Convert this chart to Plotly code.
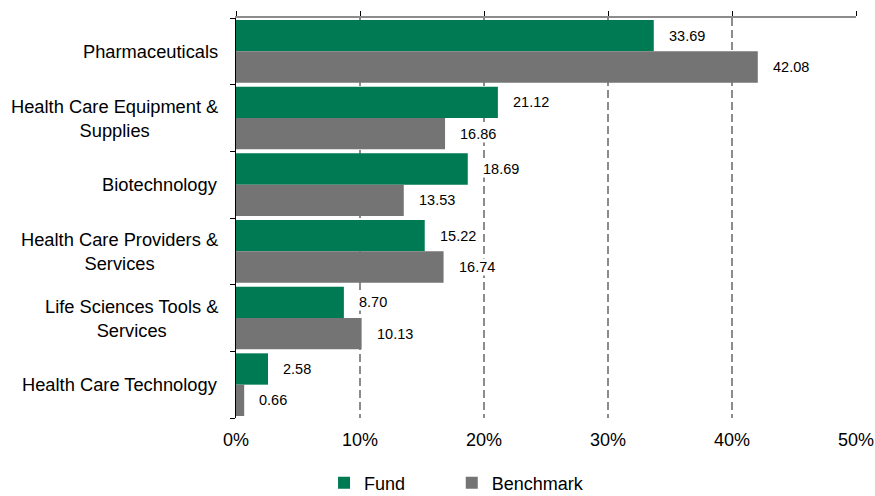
import plotly.graph_objects as go

categories = ["Pharmaceuticals", "Health Care Equipment &<br>Supplies", "Biotechnology",
              "Health Care Providers &<br>Services", "Life Sciences Tools &<br>Services",
              "Health Care Technology"]
fund = [33.69, 21.12, 18.69, 15.22, 8.70, 2.58]
benchmark = [42.08, 16.86, 13.53, 16.74, 10.13, 0.66]
x_ticks = [0, 10, 20, 30, 40, 50]
x_tick_labels = ["0%", "10%", "20%", "30%", "40%", "50%"]

GREEN = "#007A53"
GRAY = "#747474"
FONT = "Liberation Sans, Arial, sans-serif"
BARGAP = 0.06

idx = list(range(len(categories)))
fig = go.Figure()
fig.add_trace(go.Bar(y=idx, x=fund, orientation="h", name="Fund", legend="legend",
                     marker=dict(color=GREEN, line=dict(width=0))))
fig.add_trace(go.Bar(y=idx, x=benchmark, orientation="h", name="Benchmark", legend="legend2",
                     marker=dict(color=GRAY, line=dict(width=0))))
# invisible trace so the top (secondary) axis line and ticks are drawn
fig.add_trace(go.Scatter(x=x_ticks, y=[0] * len(x_ticks), xaxis="x2", yaxis="y",
                         mode="markers", marker=dict(opacity=0), showlegend=False,
                         hoverinfo="skip"))

off = (1 - BARGAP) / 4
annots = []
for i, (f, b) in enumerate(zip(fund, benchmark)):
    for val, yy in ((f, i - off), (b, i + off)):
        annots.append(dict(x=val, y=yy, xref="x", yref="y", text=f"{val:.2f}", showarrow=False,
                           xanchor="left", yanchor="middle", xshift=14, bgcolor="white",
                           borderpad=0,
                           font=dict(family=FONT, size=14.5, color="#000")))
for i, c in enumerate(categories):
    annots.append(dict(x=0, y=i, xref="paper", yref="y", text=c, showarrow=False,
                       xanchor="right", yanchor="middle", align="center", xshift=-16,
                       font=dict(family=FONT, size=18.3, color="#000")))

legend_common = dict(orientation="h", xanchor="left", yref="container", y=0.026,
                     yanchor="middle", itemwidth=30,
                     font=dict(family=FONT, size=18, color="#000"))

fig.update_layout(
    width=875, height=496,
    margin=dict(l=236, r=19, t=18, b=78, autoexpand=False),
    paper_bgcolor="white", plot_bgcolor="white",
    barmode="group", bargap=BARGAP, bargroupgap=0,
    font=dict(family=FONT, size=18, color="#000"),
    annotations=annots,
    xaxis=dict(range=[0, 50], tickvals=x_ticks, ticktext=x_tick_labels, showgrid=True,
               gridcolor="#8c8c8c", griddash="8px,4px", gridwidth=1.5, automargin=False,
               showline=False, zeroline=False, ticks="outside", ticklen=5,
               tickcolor="rgba(0,0,0,0)",
               tickfont=dict(family=FONT, size=18, color="#000")),
    xaxis2=dict(range=[0, 50], tickvals=x_ticks, overlaying="x", side="top",
                showline=True, linecolor="#8c8c8c", linewidth=2, ticks="outside",
                ticklen=5, tickcolor="#000", showticklabels=False, showgrid=False,
                zeroline=False, automargin=False),
    yaxis=dict(type="linear", range=[len(categories) - 0.5, -0.5], showline=True,
               linecolor="#000", linewidth=1, ticks="outside", ticklen=5, automargin=False,
               tickvals=[i - 0.5 for i in range(len(categories) + 1)],
               tickcolor="#000", showticklabels=False, showgrid=False, zeroline=False),
    legend=dict(x=0.142, **legend_common),
    legend2=dict(x=0.348, **legend_common),
    showlegend=True,
)
fig.write_html("out.html", config={"displayModeBar": False},
               post_script="document.body.style.margin='0';document.body.style.padding='0';")
